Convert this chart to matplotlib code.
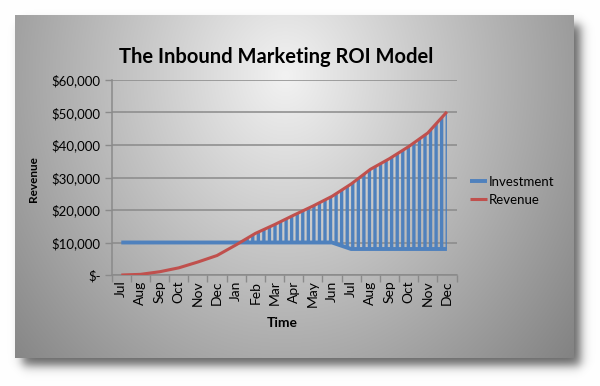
import matplotlib.pyplot as plt
import numpy as np

# Chart data
months = ['Jul', 'Aug', 'Sep', 'Oct', 'Nov', 'Dec', 'Jan', 'Feb', 'Mar',
          'Apr', 'May', 'Jun', 'Jul', 'Aug', 'Sep', 'Oct', 'Nov', 'Dec']
investment = [10000, 10000, 10000, 10000, 10000, 10000, 10000, 10000, 10000,
              10000, 10000, 10000, 8000, 8000, 8000, 8000, 8000, 8000]
revenue = [0, 200, 1000, 2200, 4000, 6000, 9300, 12800, 15500,
           18400, 21200, 24200, 28000, 32500, 35800, 39500, 43700, 50200]
y_ticks = [0, 10000, 20000, 30000, 40000, 50000, 60000]
y_tick_labels = ['$-', '$10,000', '$20,000', '$30,000', '$40,000',
                 '$50,000', '$60,000']

BLUE = '#4F81BD'
RED = '#C0504D'
GRID = '#8a8a8a'
FONT = 'Lato'

plt.rcParams['hatch.linewidth'] = 2.4

W, H = 600, 386
fig = plt.figure(figsize=(W / 100, H / 100), dpi=100)

# Background: white page, soft drop shadow, grey gradient card
yy, xx = np.mgrid[0:H, 0:W].astype(float)


def band(v, lo, hi, s):
    return 0.5 * (np.tanh((v - lo) / s) - np.tanh((v - hi) / s))


shadow = band(xx, 22, 580, 6) * band(yy, 24, 365, 6) * 0.6
img = np.ones((H, W, 3)) * (1 - shadow)[..., None]
card = (xx >= 15) & (xx <= 573) & (yy >= 15) & (yy <= 357)
t = np.sqrt(((xx - 285) / 360) ** 2 + ((yy - 75) / 420) ** 2)
shade = np.clip(0.95 - 0.42 * t, 0.5, 1)
img[card] = shade[card][:, None]

bg = fig.add_axes([0, 0, 1, 1], zorder=-10)
bg.imshow(img, extent=(0, W, H, 0), aspect='auto', interpolation='bilinear')
bg.set_xlim(0, W)
bg.set_ylim(H, 0)
bg.axis('off')

# Plot area
left, right, top, bottom = 111.7, 456.5, 80, 275
ax = fig.add_axes([left / W, 1 - bottom / H, (right - left) / W,
                   (bottom - top) / H])
ax.set_facecolor('none')

x = np.arange(len(months))
inv = np.array(investment)
rev = np.array(revenue)

ax.fill_between(x, inv, rev, where=rev > inv, interpolate=True,
                facecolor='none', edgecolor=BLUE, hatch='|||', linewidth=0,
                zorder=2)
ax.plot(x, inv, color=BLUE, lw=2.8, label='Investment', zorder=3,
        solid_capstyle='butt')
ax.plot(x, rev, color=RED, lw=2.2, label='Revenue', zorder=4,
        solid_capstyle='butt')

ax.set_xlim(-0.5, len(months) - 0.5)
ax.set_ylim(0, 60000)

ax.set_yticks(y_ticks)
ax.set_yticklabels(y_tick_labels, fontsize=9.5, family=FONT)
ax.yaxis.grid(True, color=GRID, lw=1.1)
ax.set_axisbelow(True)

ax.set_xticks(np.arange(-0.5, len(months)), labels=[])
ax.set_xticks(x, labels=months, minor=True)
ax.tick_params(axis='x', which='major', length=5, color=GRID, width=1)
ax.tick_params(axis='x', which='minor', length=0, pad=4, labelsize=10,
               labelrotation=90)
for lab in ax.get_xticklabels(minor=True):
    lab.set_family(FONT)
ax.tick_params(axis='y', length=5, color=GRID, width=1, pad=3)

for side in ['top', 'right']:
    ax.spines[side].set_visible(False)
for side in ['left', 'bottom']:
    ax.spines[side].set_color(GRID)
    ax.spines[side].set_linewidth(1.1)

fig.text(276 / W, 1 - 57 / H, 'The Inbound Marketing ROI Model',
         ha='center', va='center', fontsize=14.5, fontweight='bold',
         family=FONT)
fig.text(33 / W, 1 - 179 / H, 'Revenue', rotation=90, ha='center',
         va='center', fontsize=8.5, fontweight='bold', family=FONT)
fig.text(282 / W, 1 - 323 / H, 'Time', ha='center', va='center',
         fontsize=10, fontweight='bold', family=FONT)

fig.legend(loc='center left', bbox_to_anchor=(458 / W, 1 - 191 / H),
           frameon=False, handlelength=1.3, handletextpad=0.1,
           labelspacing=0.45, prop={'family': FONT, 'size': 9.5})

fig.savefig('out.png', dpi=100)
